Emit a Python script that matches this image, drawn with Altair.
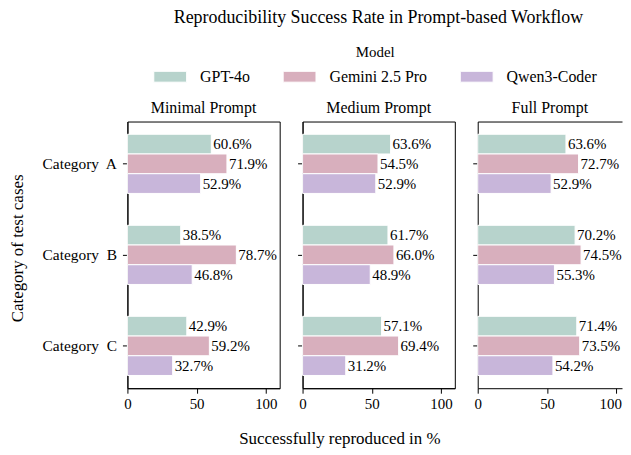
import altair as alt
import pandas as pd

prompts = ["Minimal Prompt", "Medium Prompt", "Full Prompt"]
categories = ["Category\u00a0 A", "Category\u00a0 B", "Category\u00a0 C"]
models = ["GPT-4o", "Gemini 2.5 Pro", "Qwen3-Coder"]
colors = ["#b7d3cc", "#d8afbd", "#c8b6da"]

# values per prompt, per model, for categories A, B, C
minimal_gpt = [60.6, 38.5, 42.9]
minimal_gemini = [71.9, 78.7, 59.2]
minimal_qwen = [52.9, 46.8, 32.7]
medium_gpt = [63.6, 61.7, 57.1]
medium_gemini = [54.5, 66.0, 69.4]
medium_qwen = [52.9, 48.9, 31.2]
full_gpt = [63.6, 70.2, 71.4]
full_gemini = [72.7, 74.5, 73.5]
full_qwen = [52.9, 55.3, 54.2]

series = {
    "Minimal Prompt": [minimal_gpt, minimal_gemini, minimal_qwen],
    "Medium Prompt": [medium_gpt, medium_gemini, medium_qwen],
    "Full Prompt": [full_gpt, full_gemini, full_qwen],
}

rows = []
for p in prompts:
    for m, vals in zip(models, series[p]):
        for c, v in zip(categories, vals):
            rows.append({"prompt": p, "model": m, "category": c, "value": v,
                         "label": f"{v:.1f}%"})
df = pd.DataFrame(rows)

FONT = "Liberation Serif"

legend = alt.Legend(
    orient="none", legendX=26, legendY=-77, direction="horizontal", columns=3,
    columnPadding=30, symbolType="M-1,-0.33H1V0.33H-1Z", symbolSize=1089,
    symbolStrokeColor="white", symbolStrokeWidth=1, symbolOpacity=1, padding=0,
    labelFont=FONT, labelFontSize=16, labelColor="black", labelOffset=13,
    title="Model", titleFont=FONT, titleFontSize=15, titleFontWeight="normal",
    titleColor="black", titleOrient="top", titleAnchor="middle", titlePadding=0,
)

# panel x-domain max (the last panel runs off the page edge in the original)
domains = [110, 110, 104]


def panel(p, idx):
    base = alt.Chart(df[df.prompt == p])
    dmax = domains[idx]
    last = idx == 2
    xaxis = alt.Axis(
        values=[0, 50, 100],
        title="Successfully reproduced in %" if idx == 1 else None,
        titleX=37, titleY=51, titleAlign="center", titleBaseline="middle",
        titleFont=FONT, titleFontSize=17, titleFontWeight="normal", titleColor="black",
        labelAlign=({"condition": {"test": "datum.value >= 100", "value": "right"}, "value": "center"}
                    if last else "center"),
        labelOffset=({"condition": {"test": "datum.value >= 100", "value": 5}, "value": 0}
                     if last else 0),
    )
    xenc = alt.X("value:Q", scale=alt.Scale(domain=[0, dmax], nice=False), axis=xaxis)
    yaxis = alt.Axis(labels=(idx == 0), title="Category of test cases" if idx == 0 else None,
                     titleX=-110, titleY=127, titleAngle=-90, titleAlign="center", titleBaseline="middle",
                     titleFont=FONT, titleFontSize=17, titleFontWeight="normal", titleColor="black",
                     labelPadding=6, labelFontSize=15.5)
    yenc = alt.Y("category:N", sort=categories,
                 scale=alt.Scale(paddingInner=0.35, paddingOuter=0.14), axis=yaxis)
    yoff = alt.YOffset("model:N", sort=models, scale=alt.Scale(paddingInner=0, paddingOuter=0))
    bars = base.mark_bar(stroke="white", strokeWidth=1, opacity=1).encode(
        x=xenc, y=yenc, yOffset=yoff,
        color=alt.Color("model:N", sort=models,
                        scale=alt.Scale(domain=models, range=colors), legend=legend),
    )
    if last:
        text_x = alt.X("value:Q", axis=alt.Axis(orient="top", labels=False, ticks=False,
                                                 title=None, domain=True))
    else:
        text_x = alt.X("value:Q")
    text = base.mark_text(align="left", baseline="middle", dx=2, font=FONT,
                          fontSize=15, color="black").encode(
        x=text_x, y=alt.Y("category:N", sort=categories), yOffset=yoff, text="label:N")
    layer = alt.layer(bars, text)
    props = dict(
        width=round(153 * dmax / 110), height=268,
        title=alt.TitleParams(p, font=FONT, fontSize=16, fontWeight="normal", color="black",
                              anchor="middle", offset=6),
    )
    if last:
        layer = layer.resolve_axis(x="independent")
        props["view"] = alt.ViewBackground(stroke="transparent")
    return layer.properties(**props)


chart = alt.hconcat(*[panel(p, i) for i, p in enumerate(prompts)], spacing=23, bounds="flush").properties(
    padding=0,
    title=alt.TitleParams("Reproducibility Success Rate in Prompt-based Workflow",
                          font=FONT, fontSize=18, fontWeight="normal", color="black",
                          anchor="start", dx=166, offset=18),
).configure_view(stroke="black", strokeWidth=1).configure_axis(
    domainColor="black", tickColor="black", tickSize=5, labelFont=FONT, labelFontSize=15,
    labelColor="black", grid=False, labelPadding=3,
)

chart.save("out.html", embed_options={"renderer": "svg", "actions": False})
